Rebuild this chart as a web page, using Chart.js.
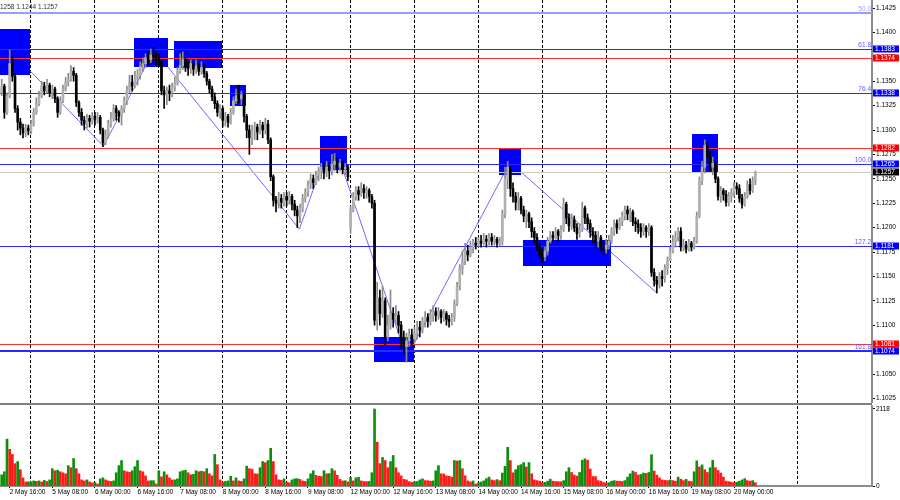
<!DOCTYPE html>
<html>
<head>
<meta charset="utf-8">
<script src="https://cdn.jsdelivr.net/npm/chart.js@4.4.1/dist/chart.umd.min.js"></script>
<style>
  html, body { margin: 0; padding: 0; background: #fff; }
  #wrap { position: relative; width: 900px; height: 500px; overflow: hidden; }
  #price { position: absolute; left: 0; top: 0; }
  #volume { position: absolute; left: 0; top: 403px; }
</style>
</head>
<body>
<div id="wrap">
  <canvas id="price" width="900" height="403"></canvas>
  <canvas id="volume" width="900" height="97"></canvas>
</div>
<script>
// ===========================
// Hourly candles, 2 May 13:00 .. 20 May 08:00 (prices in pips above 1.1000)
const firstOpen = 338;
const gapOpens = { 131: 200 };
const closePips = [
  345,318,335,368,355,322,308,302,297,302,299,
  306,318,327,335,345,340,346,338,342,332,318,330,342,349,352,360,356,328,318,310,306,312,309,314,
  311,313,300,287,295,306,312,322,318,314,322,330,341,349,345,352,356,365,368,374,372,377,375,374,
  370,340,336,340,338,344,348,360,366,372,365,363,368,362,366,360,364,358,350,342,334,327,318,322,
  310,314,308,318,330,335,332,336,314,300,292,300,303,298,305,300,306,290,252,228,225,230,226,232,
  228,232,224,218,212,220,230,236,244,250,246,254,258,262,256,262,258,265,268,262,266,260,262,252,
  218,232,238,234,240,236,238,232,225,105,128,112,125,88,100,112,106,110,100,86,78,84,90,86,
  92,98,95,104,108,104,110,114,110,114,108,112,106,104,108,122,140,158,166,176,172,180,184,182,
  186,184,188,186,190,186,188,184,186,214,250,262,240,232,226,230,218,212,214,206,196,190,180,172,
  170,176,186,192,190,196,192,198,224,210,202,208,200,194,198,220,210,204,196,192,186,190,180,178,
  182,186,196,204,200,206,212,218,214,216,206,204,200,196,200,196,200,154,146,142,150,148,158,166,
  176,186,190,196,180,182,178,184,180,186,212,248,262,284,272,262,266,250,232,238,234,226,232,236,
  242,240,230,224,232,244,238,248,257
];
const highPips = [
  352,347,338,382,375,358,325,312,306,306,305,
  310,322,333,340,350,349,352,348,346,344,334,334,346,354,358,366,364,358,330,322,314,316,315,318,
  318,318,315,302,300,310,318,326,325,320,325,334,345,356,356,360,362,370,374,378,380,383,385,380,
  378,372,345,344,346,348,354,364,378,380,374,370,372,370,372,368,370,368,360,352,345,338,330,326,
  324,318,316,322,334,342,346,340,338,316,305,305,308,306,310,308,312,310,292,254,232,236,234,236,
  236,237,234,228,222,224,234,240,248,255,254,258,262,266,266,268,266,275,276,272,270,268,266,264,
  222,236,242,242,246,244,242,240,234,228,144,136,140,128,110,136,118,120,114,104,94,92,96,96,
  98,104,104,108,114,112,116,120,118,118,116,116,114,110,112,126,144,162,176,184,182,186,188,190,
  190,192,194,192,194,194,192,190,190,218,262,268,262,246,236,236,232,222,218,216,210,200,194,184,
  178,180,190,196,196,200,198,202,230,226,214,214,212,204,204,226,222,214,208,200,196,196,192,186,
  188,192,200,208,208,210,216,222,222,220,218,210,208,204,204,202,204,202,158,150,154,156,162,170,
  180,192,196,200,200,188,186,188,186,190,216,252,268,290,288,278,272,268,252,242,240,238,236,240,
  246,246,244,234,236,248,250,252,258
];
const lowPips = [
  335,312,316,333,350,318,300,295,292,293,295,
  296,304,316,325,333,336,338,334,332,328,313,316,328,340,345,350,350,324,314,305,300,302,303,306,
  305,307,296,283,285,292,303,309,310,308,305,318,326,338,340,343,346,352,360,364,366,369,368,366,
  365,336,322,326,330,334,340,346,358,362,360,356,358,356,358,356,357,354,346,338,330,322,314,312,
  303,304,303,306,316,327,328,326,308,292,275,285,290,290,296,292,296,286,248,222,216,220,220,222,
  222,224,218,212,200,205,216,226,232,240,240,244,248,250,250,252,250,254,258,256,258,255,254,248,
  194,216,228,228,232,230,230,226,220,100,95,100,108,80,84,96,98,100,92,76,70,62,78,80,
  82,86,88,92,98,98,100,104,104,106,102,104,100,98,100,104,120,136,152,162,166,170,174,178,
  180,180,182,180,182,182,182,180,181,182,210,240,232,226,218,218,214,206,200,200,190,184,176,168,
  164,166,172,184,186,188,186,188,196,204,196,198,196,188,190,196,204,198,190,184,180,180,176,172,
  174,178,184,192,194,198,202,208,208,206,202,196,194,190,192,190,192,150,140,133,138,140,144,152,
  166,174,180,186,176,176,174,176,176,178,184,210,244,256,266,258,254,246,228,226,228,222,222,226,
  232,234,226,220,222,230,234,236,244
];
const volumes = [
  308,392,1288,1008,868,616,672,448,224,112,112,
  112,140,126,140,112,154,126,168,476,420,434,392,364,336,560,504,756,476,336,168,140,168,112,84,
  98,56,196,224,168,140,126,140,364,560,700,420,392,378,420,532,700,420,392,280,140,146,148,56,
  420,252,392,308,224,168,168,196,392,420,434,364,308,322,420,392,406,392,476,336,280,868,588,168,
  98,126,140,266,140,224,140,126,196,546,476,462,336,330,504,672,644,700,1036,672,308,168,154,196,
  98,90,168,196,202,182,140,126,196,336,420,294,266,260,420,336,342,476,420,294,182,140,146,112,
  238,140,224,238,140,126,120,126,364,2118,1204,616,784,700,504,672,840,504,364,280,182,168,120,104,
  112,126,168,196,148,146,132,140,420,560,336,330,280,266,244,700,686,700,476,280,140,112,140,56,
  84,112,140,204,244,168,148,176,146,356,540,1064,700,364,448,560,588,644,524,644,336,168,148,132,
  92,101,132,188,132,123,120,118,148,392,504,372,300,272,372,708,748,708,468,260,258,148,132,98,
  76,92,132,148,134,132,123,148,244,336,412,372,300,316,356,344,372,860,412,300,224,168,154,148,
  168,148,132,244,188,148,182,132,120,392,692,524,580,448,372,504,708,504,428,356,244,132,120,104,
  92,104,132,168,204,148,132,148,92
];

// axis labels
const xTickBars = [3,19,35,51,67,83,99,115,131,147,163,179,195,211,227,243,259,275];
const xTickLabels = ['2 May 16:00','5 May 08:00','6 May 00:00','6 May 16:00','7 May 08:00','8 May 00:00',
  '8 May 16:00','9 May 08:00','12 May 00:00','12 May 16:00','13 May 08:00','14 May 00:00','14 May 16:00',
  '15 May 08:00','16 May 00:00','16 May 16:00','19 May 08:00','20 May 00:00'];
const dayStartBars = [11,35,59,83,107,131,155,179,203,227,251,275,299];
const priceTicks = [1.1025,1.1050,1.1075,1.1100,1.1125,1.1150,1.1175,1.1200,1.1225,1.1250,
  1.1275,1.1300,1.1325,1.1350,1.1375,1.1400,1.1425];
const volTicks = [0, 2118];

// drawn objects
const fibNames = ['50.0','61.8','76.4','100.0','127.2','161.8'];
const fibPrices = [1.1420, 1.1383, 1.1338, 1.1265, 1.1181, 1.1074];
const redLevels = [1.1374, 1.1282, 1.1081];
const lastPrice = 1.1257;
const zigBars = [3, 38.2, 57.2, 111.8, 123.9, 152.1, 190.9, 246];
const zigPips = [382, 283.5, 382, 198.5, 293, 67, 267, 133];
const zoneStart = [-0.64, 49.7, 64.7, 85.7, 119.5, 139.8, 186.7, 195.8, 259.2];
const zoneEnd = [10.6, 62.4, 82.7, 91.7, 129.7, 154.8, 195, 228.8, 269];
const zoneHigh = [403.5, 394.3, 391.2, 346, 293.8, 87.8, 280.5, 187.2, 295.9];
const zoneLow = [356.3, 364.5, 363.5, 324.5, 259, 62.2, 253.8, 160.6, 255.9];

// ===========================
const FONT = '"Liberation Sans", Arial, sans-serif';
Chart.defaults.font.family = FONT;
Chart.defaults.font.size = 6.5;
Chart.defaults.color = '#000';
Chart.defaults.animation = false;

const toPrice = p => 1.1 + p / 10000;
const xMin = -0.64, xMax = 326.8;

const candles = closePips.map((c, i) => {
  const o = i in gapOpens ? gapOpens[i] : (i === 0 ? firstOpen : closePips[i - 1]);
  return { x: i, o: toPrice(o), c: toPrice(c), h: toPrice(highPips[i]), l: toPrice(lowPips[i]) };
});

const noPad = ax => { ax.paddingTop = 0; ax.paddingBottom = 0; ax.paddingLeft = 0; ax.paddingRight = 0; };

const overlay = {
  id: 'overlay',
  afterDatasetDraw(chart, args) {
    if (args.index !== 0) return;
    const { ctx, chartArea: a, scales: { x, y } } = chart;
    ctx.save();
    ctx.beginPath();
    ctx.rect(a.left, a.top, a.width, a.height);
    ctx.clip();
    ctx.fillStyle = '#0000ff';
    zoneStart.forEach((b, i) => {
      const x0 = Math.round(x.getPixelForValue(b)), x1 = Math.round(x.getPixelForValue(zoneEnd[i]));
      const y0 = Math.round(y.getPixelForValue(toPrice(zoneHigh[i]))), y1 = Math.round(y.getPixelForValue(toPrice(zoneLow[i])));
      ctx.fillRect(x0, y0, x1 - x0, y1 - y0);
    });
    const hline = (p, color, w) => {
      const py = Math.round(y.getPixelForValue(p));
      ctx.fillStyle = color;
      ctx.fillRect(a.left, py - (w > 1 ? 1 : 0), a.width, w);
    };
    hline(lastPrice, '#c8c8c8', 1);
    redLevels.forEach(p => hline(p, '#ff3030', 1));
    fibPrices.forEach((p, i) => {
      if (i === 0) hline(p, '#9c9cff', 2);
      else hline(p, '#2a2aff', i === 5 ? 2 : 1);
    });
    ctx.restore();
  },
  afterDraw(chart) {
    const { ctx, chartArea: a, scales: { y } } = chart;
    ctx.save();
    ctx.font = '6.5px ' + FONT;
    ctx.textBaseline = 'alphabetic';
    ctx.textAlign = 'right';
    fibNames.forEach((n, i) => {
      ctx.fillStyle = i === 0 ? '#9c9cff' : '#5a5aff';
      ctx.fillText(n, a.right - 1, Math.round(y.getPixelForValue(fibPrices[i])) - 2);
    });
    const boxes = [];
    fibPrices.slice(1).forEach(p => boxes.push([p, '#0000ff']));
    redLevels.forEach(p => boxes.push([p, '#ff0000']));
    boxes.push([lastPrice, '#000000']);
    ctx.textAlign = 'left';
    ctx.textBaseline = 'middle';
    boxes.forEach(([p, col]) => {
      const py = Math.round(y.getPixelForValue(p));
      ctx.fillStyle = col;
      ctx.fillRect(a.right + 1, py - 3.5, 26, 7);
      ctx.fillStyle = '#fff';
      ctx.fillText(p.toFixed(4), a.right + 3, py + 0.5);
    });
    ctx.fillStyle = '#303030';
    ctx.textBaseline = 'alphabetic';
    ctx.fillText('1258 1.1244 1.1257', 0, 9);
    ctx.restore();
  }
};

new Chart(document.getElementById('price'), {
  type: 'bar',
  data: {
    datasets: [
      { type: 'line', data: zigBars.map((b, i) => ({ x: b, y: toPrice(zigPips[i]) })),
        borderColor: '#6a6aff', borderWidth: 1, pointRadius: 0, tension: 0, order: 3 },
      { data: candles.map(k => ({ x: k.x, y: [k.l, k.h] })),
        backgroundColor: candles.map(k => k.c >= k.o ? '#8a8a8a' : '#000'),
        barThickness: 1, grouped: false, order: 2 },
      { data: candles.map(k => ({ x: k.x, y: [k.o, k.c] })),
        backgroundColor: candles.map(k => k.c >= k.o ? '#b0b0b0' : '#000'),
        barThickness: 2, minBarLength: 1, grouped: false, order: 1 },
    ],
  },
  options: {
    responsive: false,
    devicePixelRatio: 1,
    events: [],
    layout: { padding: 0 },
    plugins: { legend: { display: false }, tooltip: { enabled: false } },
    scales: {
      x: {
        type: 'linear', min: xMin, max: xMax, offset: false,
        afterBuildTicks: ax => { ax.ticks = dayStartBars.map(v => ({ value: v })); },
        afterFit: ax => { ax.height = 0; noPad(ax); },
        ticks: { display: false },
        grid: { color: '#000', lineWidth: 1, drawTicks: false, offset: false },
        border: { display: false, dash: [3, 2] },
      },
      y: {
        type: 'linear', position: 'right', min: 1.14332 - 403 / 9760, max: 1.14332,
        afterBuildTicks: ax => { ax.ticks = priceTicks.map(v => ({ value: v })); },
        afterFit: ax => { ax.width = 28; noPad(ax); },
        ticks: { callback: v => v.toFixed(4), padding: 1, autoSkip: false },
        grid: { drawOnChartArea: false, tickLength: 3, tickColor: '#000' },
        border: { color: '#8c8c8c', width: 2 },
      },
    },
  },
  plugins: [overlay],
});

// ===========================
// Volume pane
const volColors = volumes.map((v, i) => i > 0 && v < volumes[i - 1] ? '#ff1a1a' : '#0a900a');

const paneFrame = {
  id: 'paneFrame',
  afterDraw(chart) {
    const { ctx, chartArea: a } = chart;
    ctx.save();
    ctx.fillStyle = '#7f7f7f';
    ctx.fillRect(0, 0, a.right, 2);
    ctx.restore();
  }
};

new Chart(document.getElementById('volume'), {
  type: 'bar',
  data: {
    datasets: [{
      data: volumes.map((v, i) => ({ x: i, y: v })),
      backgroundColor: volColors,
      barThickness: 2, grouped: false,
    }],
  },
  options: {
    responsive: false,
    devicePixelRatio: 1,
    events: [],
    layout: { padding: { top: 3 } },
    plugins: { legend: { display: false }, tooltip: { enabled: false } },
    scales: {
      x: {
        type: 'linear', position: 'bottom', min: xMin, max: xMax, offset: false,
        afterBuildTicks: ax => { ax.ticks = xTickBars.map(v => ({ value: v })); },
        afterFit: ax => { ax.height = 14; noPad(ax); },
        ticks: { callback: (v, i) => xTickLabels[i], align: 'start', padding: 0, maxRotation: 0, autoSkip: false },
        grid: { drawOnChartArea: false, drawTicks: true, tickLength: 2, tickColor: '#000', offset: false },
        border: { color: '#8c8c8c', width: 2 },
      },
      x2: {
        type: 'linear', position: 'top', min: xMin, max: xMax, offset: false,
        afterBuildTicks: ax => { ax.ticks = dayStartBars.map(v => ({ value: v })); },
        afterFit: ax => { ax.height = 0; noPad(ax); },
        ticks: { display: false },
        grid: { color: '#000', lineWidth: 1, drawTicks: false, offset: false },
        border: { display: false, dash: [3, 2] },
      },
      y: {
        type: 'linear', position: 'right', min: 0, max: 2200,
        afterBuildTicks: ax => { ax.ticks = volTicks.map(v => ({ value: v })); },
        afterFit: ax => { ax.width = 28; noPad(ax); },
        ticks: { callback: v => String(v), padding: 1, autoSkip: false },
        grid: { drawOnChartArea: false, tickLength: 3, tickColor: '#000' },
        border: { color: '#8c8c8c', width: 2 },
      },
    },
  },
  plugins: [paneFrame],
});
</script>
</body>
</html>
